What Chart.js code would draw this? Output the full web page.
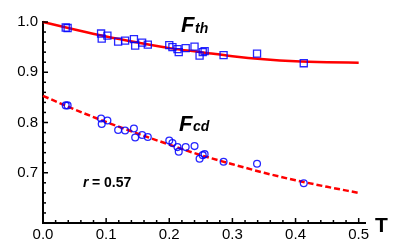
<!DOCTYPE html>
<html>
<head>
<meta charset="utf-8">
<script src="https://cdn.jsdelivr.net/npm/chart.js@4/dist/chart.umd.min.js"></script>
<style>
  html, body { margin: 0; padding: 0; background: #fff; }
  #wrap { width: 403px; height: 249px; position: relative; }
</style>
</head>
<body>
<div id="wrap"><canvas id="myChart"></canvas></div>
<script>
// measured points (same T for both quantities)
const tValues   = [0.036, 0.039, 0.092, 0.093, 0.102, 0.119, 0.130, 0.144, 0.146, 0.157, 0.166, 0.200,
                   0.205, 0.213, 0.215, 0.226, 0.240, 0.248, 0.253, 0.256, 0.286, 0.339, 0.413];
const fthValues = [0.989, 0.988, 0.977, 0.967, 0.973, 0.961, 0.963, 0.966, 0.953, 0.959, 0.955, 0.954,
                   0.950, 0.946, 0.940, 0.948, 0.951, 0.933, 0.940, 0.942, 0.934, 0.937, 0.918];
const fcdValues = [0.834, 0.834, 0.808, 0.797, 0.804, 0.785, 0.784, 0.788, 0.770, 0.775, 0.771, 0.764,
                   0.759, 0.751, 0.742, 0.751, 0.753, 0.728, 0.735, 0.737, 0.722, 0.718, 0.679];

// fitted curves
const curveT  = [0, 0.05, 0.10, 0.15, 0.20, 0.25, 0.30, 0.35, 0.40, 0.45, 0.50];
const fitTh   = [1.000, 0.985, 0.971, 0.959, 0.948, 0.940, 0.932, 0.926, 0.922, 0.920, 0.919];
const fitCd   = [0.853, 0.826, 0.801, 0.778, 0.756, 0.735, 0.717, 0.700, 0.685, 0.672, 0.660];

const xTickLabels = ['0.0', '0.1', '0.2', '0.3', '0.4', '0.5'];
const yTickLabels = ['0.7', '0.8', '0.9', '1.0'];

const pts = (xs, ys) => xs.map((x, i) => ({ x: x, y: ys[i] }));
const FONT = '"Liberation Sans", Arial, Helvetica, sans-serif';

const labelFor = (list) => (v) => {
    const s = (Math.round(v * 100) / 100).toFixed(1);
    return (Math.abs(v * 10 - Math.round(v * 10)) < 1e-6 && list.includes(s)) ? s : '';
};

// inward tick marks, major and minor
const inwardTicks = {
    id: 'inwardTicks',
    afterDatasetsDraw(chart) {
        const { ctx, chartArea, scales } = chart;
        ctx.save();
        ctx.strokeStyle = '#000';
        ctx.lineWidth = 1.5;
        scales.x.ticks.forEach((t) => {
            const p = scales.x.getPixelForValue(t.value);
            const len = t.label ? 5 : 3;
            ctx.beginPath();
            ctx.moveTo(p, chartArea.bottom);
            ctx.lineTo(p, chartArea.bottom - len);
            ctx.stroke();
        });
        scales.y.ticks.forEach((t) => {
            const p = scales.y.getPixelForValue(t.value);
            const len = t.label ? 5 : 3;
            ctx.beginPath();
            ctx.moveTo(chartArea.left, p);
            ctx.lineTo(chartArea.left + len, p);
            ctx.stroke();
        });
        ctx.restore();
    },
    afterDraw(chart) {
        const { ctx } = chart;
        ctx.save();
        ctx.fillStyle = '#000';
        ctx.textBaseline = 'alphabetic';
        // F_th
        ctx.font = 'italic bold 22px ' + FONT;
        ctx.fillText('F', 181, 32);
        ctx.font = 'italic bold 14px ' + FONT;
        ctx.fillText('th', 195, 33);
        // F_cd
        ctx.font = 'italic bold 22px ' + FONT;
        ctx.fillText('F', 179, 131);
        ctx.font = 'italic bold 14px ' + FONT;
        ctx.fillText('cd', 193, 131);
        // r = 0.57
        ctx.font = 'italic bold 14px ' + FONT;
        ctx.fillText('r', 83, 187);
        ctx.font = 'bold 14px ' + FONT;
        ctx.fillText(' = 0.57', 88, 187);
        // axis name
        ctx.font = 'bold 21px ' + FONT;
        ctx.fillText('T', 375, 232);
        ctx.restore();
    }
};

const ctx = document.getElementById('myChart').getContext('2d');
const chart = new Chart(ctx, {
    type: 'scatter',
    data: {
        datasets: [
            {
                label: 'Fth data', data: pts(tValues, fthValues),
                pointStyle: 'rect', pointRadius: 5, pointBorderWidth: 1.3,
                borderColor: 'rgba(0,0,255,0.85)', backgroundColor: 'rgba(0,0,0,0)'
            },
            {
                label: 'Fcd data', data: pts(tValues, fcdValues),
                pointStyle: 'circle', pointRadius: 3.4, pointBorderWidth: 1.3,
                borderColor: 'rgba(0,0,255,0.85)', backgroundColor: 'rgba(0,0,0,0)'
            },
            {
                label: 'Fth fit', data: pts(curveT, fitTh), showLine: true,
                pointRadius: 0, borderColor: '#ff0000', borderWidth: 2.5,
                cubicInterpolationMode: 'monotone', clip: 4
            },
            {
                label: 'Fcd fit', data: pts(curveT, fitCd), showLine: true,
                pointRadius: 0, borderColor: '#ff0000', borderWidth: 2.5,
                borderDash: [6, 3], cubicInterpolationMode: 'monotone', clip: 4
            }
        ]
    },
    options: {
        responsive: true,
        maintainAspectRatio: false,
        animation: false,
        devicePixelRatio: 1,
        layout: { padding: { top: 22, right: 38, left: 0, bottom: 0 } },
        plugins: { legend: { display: false }, tooltip: { enabled: false } },
        scales: {
            x: {
                type: 'linear', min: 0, max: 0.51,
                grid: { display: false, drawTicks: false },
                border: { display: true, color: '#000', width: 2 },
                ticks: {
                    stepSize: 0.02, includeBounds: false, autoSkip: false, maxRotation: 0,
                    padding: 3, color: '#000', font: { family: FONT, size: 15 },
                    callback: labelFor(xTickLabels)
                },
                afterFit: (s) => { s.height = 26; }
            },
            y: {
                type: 'linear', min: 0.6, max: 1.0,
                grid: { display: false, drawTicks: false },
                border: { display: true, color: '#000', width: 2 },
                ticks: {
                    stepSize: 0.02, includeBounds: false, autoSkip: false,
                    padding: 5, color: '#000', font: { family: FONT, size: 15 },
                    callback: labelFor(yTickLabels)
                },
                afterFit: (s) => { s.width = 43; }
            }
        }
    },
    plugins: [inwardTicks]
});
</script>
</body>
</html>
